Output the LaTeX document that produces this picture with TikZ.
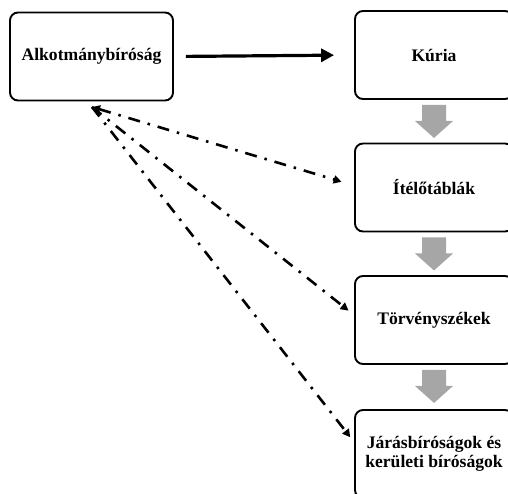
\documentclass[tikz,border=0pt]{standalone}
\usepackage{fontspec}
\setmainfont{Liberation Serif}
\usetikzlibrary{arrows.meta,calc}
\begin{document}
\begin{tikzpicture}[x=1pt,y=-1pt,
  box/.style={draw=black,line width=1.9pt,rounded corners=8pt,fill=white,
    minimum height=88pt,align=center,inner sep=0pt,
    font=\fontsize{17.6}{19}\selectfont\bfseries},
  dd/.style={line width=2.6pt,dash pattern=on 12pt off 8pt on 2.5pt off 8pt,
    -{Triangle[length=8pt,width=8pt]}},
  garrow/.style={fill=black!35,draw=none}]
\clip (0,0) rectangle (508,493);
\useasboundingbox (0,0) rectangle (508,493);
\node[box,minimum width=163pt] (ab) at (91.5,56.5) {Alkotmánybíróság};
\node[box,minimum width=158pt] (ku) at (434,55) {Kúria};
\node[box,minimum width=158pt] (it) at (434,187.5) {Ítélőtáblák};
\node[box,minimum width=158pt] (tv) at (434,320) {Törvényszékek};
\node[box,minimum width=158pt] (ja) at (434,454) {Járásbíróságok és\\kerületi bíróságok};
% black arrow
\draw[line width=3.2pt,-{Triangle[length=13pt,width=13pt]},shorten <=12pt,shorten >=20pt]
  (ab.east) -- (ku.west);
% gray arrows
\foreach \a/\b in {ku/it,it/tv,tv/ja}{
  \fill[garrow] ($(\a.south)+(-12,5)$) -- ($(\a.south)+(12,5)$) -- ($(\a.south)+(12,21)$)
    -- ($(\a.south)+(19,21)$) -- ($(\a.south)+(0,38)$) -- ($(\a.south)+(-19,21)$)
    -- ($(\a.south)+(-12,21)$) -- cycle;
}
% dash-dot arrows
\coordinate (s) at (92,107);
\draw[dd,{Triangle[length=8pt,width=8pt]}-{Triangle[length=8pt,width=8pt]},shorten >=13pt] (s) -- ($(it.west)+(0,-2)$);
\draw[dd,shorten >=7pt] (s) -- ($(tv.west)+(0,-5)$);
\draw[dd,shorten >=6pt] (s) -- ($(ja.west)+(0,-12)$);
\end{tikzpicture}
\end{document}
